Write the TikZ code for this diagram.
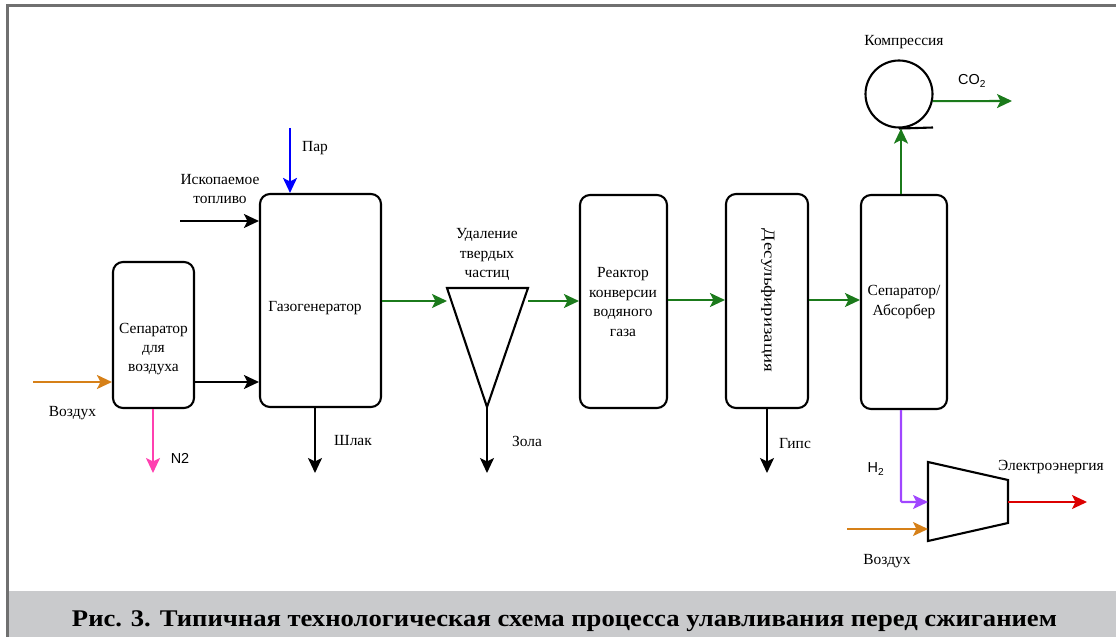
\documentclass[tikz,border=0pt]{standalone}
\usepackage{fontspec}
\setmainfont{Liberation Serif}
\newfontfamily\sansf{Liberation Sans}
\usetikzlibrary{arrows.meta}
\definecolor{flowgreen}{RGB}{27,122,27}
\definecolor{airorange}{RGB}{214,128,24}
\definecolor{ntpink}{RGB}{255,64,176}
\definecolor{hpurple}{RGB}{160,70,255}
\definecolor{pwred}{RGB}{220,0,0}
\definecolor{steamblue}{RGB}{0,0,255}
\definecolor{bordergray}{RGB}{112,112,112}
\definecolor{capgray}{RGB}{201,202,204}
\tikzset{
  unit/.style={draw, line width=2.1bp, rounded corners=10bp, inner sep=0pt},
  lbl/.style={font=\fontsize{15.5}{19.5}\selectfont, align=center, inner sep=0pt},
  slbl/.style={font=\sansf\fontsize{14.5}{17}\selectfont, inner sep=0pt},
  flow/.style={line width=2.1bp, -{Stealth[length=15bp,width=14bp,inset=3.5bp]}},
}
\begin{document}
\begin{tikzpicture}[x=1bp,y=-1bp]
\useasboundingbox (0,0) rectangle (1116,637);
% frame and caption band
\fill[capgray] (7,591) rectangle (1116,637);
\draw[bordergray, line width=3bp] (7.5,637) -- (7.5,5.5) -- (1116,5.5);
\node[font=\fontsize{24}{28}\selectfont\bfseries, inner sep=0pt, anchor=base] (caption) at (564.5,626)
  {\resizebox{985bp}{\height}{Рис. 3. Типичная технологическая схема процесса улавливания перед сжиганием}};

% units
\node[unit, minimum width=81bp, minimum height=146bp] (sep) at (153.5,335) {};
\node[lbl] (septxt) at (153.5,349) {Сепаратор\\для\\воздуха};
\node[unit, minimum width=121bp, minimum height=213bp] (gas) at (320.5,300.5) {};
\node[lbl] (gastxt) at (315,308) {Газогенератор};
\node[unit, minimum width=87bp, minimum height=213bp] (wgs) at (623.5,301.5) {};
\node[lbl] (wgstxt) at (623,302) {Реактор\\конверсии\\водяного\\газа};
\node[unit, minimum width=82bp, minimum height=214bp] (des) at (767,301) {};
\node[lbl, rotate=-90] (destxt) at (768,300.5) {\resizebox{143bp}{\height}{Десульфиризация}};
\node[unit, minimum width=86bp, minimum height=214bp] (sab) at (904,302) {};
\node[lbl] (sabtxt) at (904,302) {Сепаратор/\\Абсорбер};

% particulate removal cone
\coordinate (coneL) at (447,288);
\coordinate (coneR) at (528,288);
\coordinate (coneB) at (487,407);
\draw[line width=2.1bp, line join=miter] (coneL) -- (coneR) -- (coneB) -- cycle;
\node[lbl] (conetxt) at (487,254.5) {Удаление\\твердых\\частиц};

% compressor
\node[circle, draw, line width=2.1bp, minimum size=67bp, inner sep=0pt] (comp) at (899,94) {};
\coordinate (compline) at (933,127.5);
\draw[line width=2.1bp] (comp.south) -- (compline);
\node[lbl] (comptxt) at (904,42) {Компрессия};

% turbine
\coordinate (t1) at (928,462);
\coordinate (t2) at (1008,480);
\coordinate (t3) at (1008,523);
\coordinate (t4) at (928,541);
\draw[line width=2.1bp, line join=miter] (t1) -- (t2) -- (t3) -- (t4) -- cycle;

% free ends
\coordinate (airA) at (33,382);
\coordinate (n2end) at (153,473);
\coordinate (fuelA) at (180,221);
\coordinate (steamA) at (290,128);
\coordinate (slagend) at (315,473);
\coordinate (ashend) at (487,473);
\coordinate (gypend) at (767,473);
\coordinate (co2end) at (1012,101);
\coordinate (hbend) at (901,502);
\coordinate (hend) at (928,502);
\coordinate (airB) at (847,529);
\coordinate (airBend) at (928,529);
\coordinate (pwend) at (1087,502);

% connectors
\draw[flow, airorange] (airA) -- (sep.west |- airA);
\draw[flow, ntpink] (sep.south -| n2end) -- (n2end);
\draw[flow] (sep.east |- airA) -- (gas.west |- airA);
\draw[flow] (fuelA) -- (gas.west |- fuelA);
\draw[flow, steamblue] (steamA) -- (gas.north -| steamA);
\draw[flow] (gas.south -| slagend) -- (slagend);
\draw[flow, flowgreen] (gas.east |- 0,301) -- (coneL |- 0,301);
\draw[flow] (coneB) -- (ashend);
\draw[flow, flowgreen] (coneR |- 0,301) -- (wgs.west |- 0,301);
\draw[flow, flowgreen] (wgs.east |- 0,300) -- (des.west |- 0,300);
\draw[flow] (des.south) -- (gypend);
\draw[flow, flowgreen] (des.east |- 0,300) -- (sab.west |- 0,300);
\draw[flow, flowgreen] (sab.north -| hbend) -- (comp.south -| hbend);
\draw[flow, flowgreen] (comp.-12) -- (co2end);
\draw[flow, hpurple, rounded corners=1bp] (sab.south -| hbend) -- (hbend) -- (hend);
\draw[flow, airorange] (airB) -- (airBend);
\draw[flow, pwred] (t2 |- pwend) -- (pwend);

% labels
\node[lbl] (fueltxt) at (220,189) {Ископаемое\\топливо};
\node[lbl] (steamtxt) at (315,148) {Пар};
\node[lbl] (airtxtA) at (72.5,413) {Воздух};
\node[slbl] (n2txt) at (180,458) {N2};
\node[lbl] (slagtxt) at (353,441) {Шлак};
\node[lbl] (ashtxt) at (527,441) {Зола};
\node[lbl] (gyptxt) at (795,444) {Гипс};
\node[slbl] (co2txt) at (972,81) {CO\textsubscript{2}};
\node[slbl] (h2txt) at (876,469) {H\textsubscript{2}};
\node[lbl] (airtxtB) at (887,561) {Воздух};
\node[lbl] (pwtxt) at (1051,467) {Электроэнергия};
\end{tikzpicture}
\end{document}
